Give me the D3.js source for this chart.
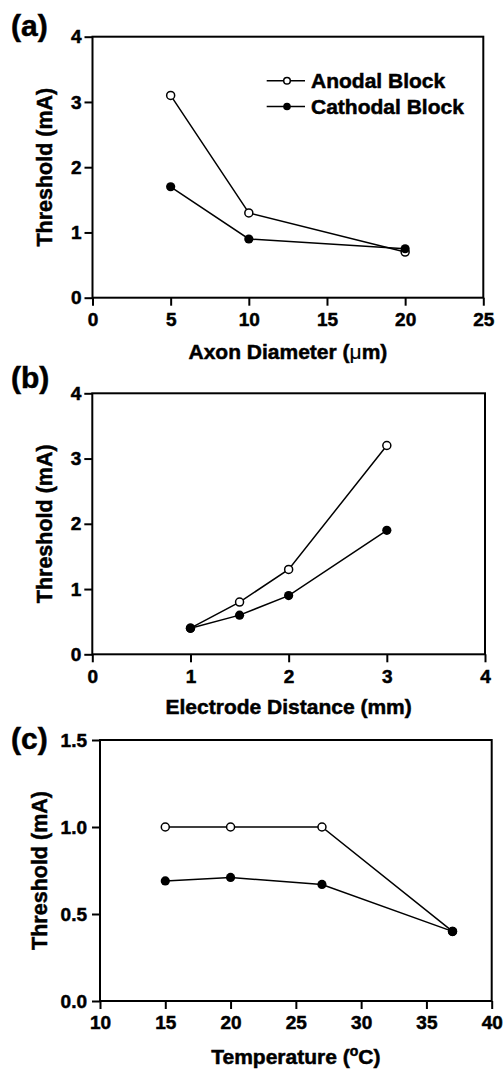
<!DOCTYPE html>
<html>
<head>
<meta charset="utf-8">
<script src="https://cdn.jsdelivr.net/npm/d3@7"></script>
<style>
  html, body { margin: 0; padding: 0; background: #fff; }
  svg text { font-family: "Liberation Sans", Arial, Helvetica, sans-serif; font-weight: bold; fill: #000; stroke: #000; stroke-width: 0.5px; }
</style>
</head>
<body>
<svg id="chart" width="504" height="1073"></svg>
<script>
// Panel (a): threshold vs axon diameter
var diameterX = [5, 10, 20];
var diameterAnodal = [3.1, 1.3, 0.7];
var diameterCathodal = [1.7, 0.9, 0.75];
var diameterXTicks = [0, 5, 10, 15, 20, 25];
var diameterYTicks = [0, 1, 2, 3, 4];

// Panel (b): threshold vs electrode distance
var distanceX = [1, 1.5, 2, 3];
var distanceAnodal = [0.4, 0.8, 1.3, 3.2];
var distanceCathodal = [0.4, 0.6, 0.9, 1.9];
var distanceXTicks = [0, 1, 2, 3, 4];
var distanceYTicks = [0, 1, 2, 3, 4];

// Panel (c): threshold vs temperature
var tempX = [15, 20, 27, 37];
var tempAnodal = [1.0, 1.0, 1.0, 0.4];
var tempCathodal = [0.69, 0.71, 0.67, 0.4];
var tempXTicks = [10, 15, 20, 25, 30, 35, 40];
var tempYTicks = [0, 0.5, 1.0, 1.5];

var seriesNames = ['Anodal Block', 'Cathodal Block'];

(function () {
  'use strict';

  var svg = d3.select('#chart');

  function zip(xs, ys) {
    return xs.map(function (x, i) { return { x: x, y: ys[i] }; });
  }

  function drawPanel(p) {
    var g = svg.append('g');
    var x = d3.scaleLinear().domain(p.xDomain).range([p.left, p.right]);
    var y = d3.scaleLinear().domain(p.yDomain).range([p.bottom, p.top]);

    // ticks (outward), domain drawn as frame below
    var xAxis = g.append('g').attr('transform', 'translate(0,' + p.bottom + ')')
      .call(d3.axisBottom(x).tickValues(p.xTicks).tickFormat(d3.format('d'))
        .tickSize(8).tickSizeOuter(0).tickPadding(7));
    var yAxis = g.append('g').attr('transform', 'translate(' + p.left + ',0)')
      .call(d3.axisLeft(y).tickValues(p.yTicks).tickFormat(p.yFormat)
        .tickSize(8).tickSizeOuter(0).tickPadding(p.yPad));
    [xAxis, yAxis].forEach(function (a) {
      a.attr('font-size', 19).attr('font-family', null);
      a.select('.domain').remove();
      a.selectAll('.tick line').attr('stroke', '#000').attr('stroke-width', 2);
      a.selectAll('.tick text').style('font-size', '19px').attr('fill', '#000');
    });

    g.append('rect')
      .attr('x', p.left).attr('y', p.top)
      .attr('width', p.right - p.left).attr('height', p.bottom - p.top)
      .attr('fill', 'none').attr('stroke', '#000').attr('stroke-width', 2);

    var line = d3.line().x(function (d) { return x(d.x); }).y(function (d) { return y(d.y); });

    var anodal = zip(p.xs, p.anodal);
    var cathodal = zip(p.xs, p.cathodal);

    [anodal, cathodal].forEach(function (pts) {
      g.append('path').datum(pts)
        .attr('d', line).attr('fill', 'none')
        .attr('stroke', '#000').attr('stroke-width', 1.5);
    });

    g.selectAll('.anod').data(anodal).enter().append('circle')
      .attr('class', 'anod')
      .attr('cx', function (d) { return x(d.x); }).attr('cy', function (d) { return y(d.y); })
      .attr('r', 4).attr('fill', '#fff')
      .attr('stroke', '#000').attr('stroke-width', 1.5);

    g.selectAll('.cath').data(cathodal).enter().append('circle')
      .attr('class', 'cath')
      .attr('cx', function (d) { return x(d.x); }).attr('cy', function (d) { return y(d.y); })
      .attr('r', 4.6).attr('fill', '#000');

    // panel letter
    g.append('text').attr('x', 11).attr('y', p.letterY)
      .style('font-size', '30px').text(p.letter);

    // y title
    g.append('text')
      .attr('transform', 'translate(' + p.yTitleX + ',' + ((p.top + p.bottom) / 2) + ') rotate(-90)')
      .attr('text-anchor', 'middle').style('font-size', '21.5px')
      .text('Threshold (mA)');

    // x title
    var xt = g.append('text')
      .attr('x', (p.left + p.right) / 2).attr('y', p.xTitleY)
      .attr('text-anchor', 'middle').style('font-size', '21px');
    p.xTitle(xt);

    return { x: x, y: y, g: g };
  }

  var a = drawPanel({
    left: 92.5, right: 483.3, top: 36.7, bottom: 297.7,
    xDomain: [0, 25], yDomain: [0, 4],
    xTicks: diameterXTicks, yTicks: diameterYTicks, yFormat: d3.format('d'), yPad: 3,
    xs: diameterX, anodal: diameterAnodal, cathodal: diameterCathodal,
    letter: '(a)', letterY: 36, yTitleX: 52, xTitleY: 359,
    xTitle: function (t) {
      t.append('tspan').text('Axon Diameter (');
      t.append('tspan').style('font-weight', 'normal').style('stroke-width', '0.2px').text('\u03bc');
      t.append('tspan').text('m)');
    }
  });

  drawPanel({
    left: 92.3, right: 485, top: 393.3, bottom: 654.3,
    xDomain: [0, 4], yDomain: [0, 4],
    xTicks: distanceXTicks, yTicks: distanceYTicks, yFormat: d3.format('d'), yPad: 3,
    xs: distanceX, anodal: distanceAnodal, cathodal: distanceCathodal,
    letter: '(b)', letterY: 388, yTitleX: 52, xTitleY: 714,
    xTitle: function (t) { t.text('Electrode Distance (mm)'); }
  });

  drawPanel({
    left: 100, right: 491.7, top: 740, bottom: 1001,
    xDomain: [10, 40], yDomain: [0, 1.5],
    xTicks: tempXTicks, yTicks: tempYTicks, yFormat: d3.format('.1f'), yPad: 5,
    xs: tempX, anodal: tempAnodal, cathodal: tempCathodal,
    letter: '(c)', letterY: 749, yTitleX: 47, xTitleY: 1064,
    xTitle: function (t) {
      t.append('tspan').text('Temperature (');
      t.append('tspan').attr('dy', -8).style('font-size', '14px').text('o');
      t.append('tspan').attr('dy', 8).text('C)');
    }
  });

  // Legend in panel (a)
  var legendRows = [
    { name: seriesNames[0], y: 80.7, filled: false },
    { name: seriesNames[1], y: 106.5, filled: true }
  ];
  var leg = a.g.append('g');
  legendRows.forEach(function (r) {
    leg.append('line').attr('x1', 266.7).attr('x2', 305).attr('y1', r.y).attr('y2', r.y)
      .attr('stroke', '#000').attr('stroke-width', 1.5);
    leg.append('circle').attr('cx', 287).attr('cy', r.y)
      .attr('r', r.filled ? 3.8 : 3.3)
      .attr('fill', r.filled ? '#000' : '#fff')
      .attr('stroke', '#000').attr('stroke-width', r.filled ? 0 : 1.5);
    leg.append('text').attr('x', 311).attr('y', r.y + 7.3)
      .style('font-size', '21px').text(r.name);
  });
})();
</script>
</body>
</html>
